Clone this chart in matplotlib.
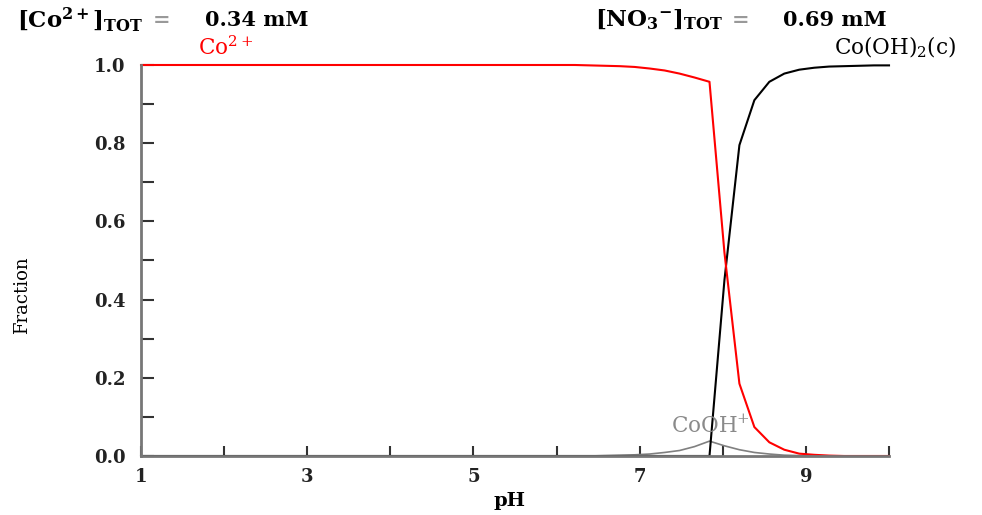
import matplotlib
matplotlib.use("Agg")
import matplotlib.pyplot as plt
from matplotlib.ticker import MultipleLocator, FixedLocator

plt.rcParams['font.family'] = ['DejaVu Serif']
plt.rcParams['mathtext.fontset'] = 'dejavuserif'

# pH grid points (flat stretches only need their ends)
ph = [1.00, 6.22, 6.40, 6.58, 6.76, 6.94, 7.12, 7.30, 7.48, 7.66, 7.84,
      8.02, 8.20, 8.38, 8.56, 8.74, 8.92, 9.10, 9.28, 9.46, 9.64, 9.82, 10.00]

co2 = [1.0, 1.0, 0.999, 0.998, 0.997, 0.995, 0.991, 0.986, 0.978, 0.968, 0.957,
       0.52, 0.185, 0.074, 0.035, 0.016, 0.006, 0.003, 0.001, 0.0, 0.0, 0.0, 0.0]
cooh = [0.0, 0.0, 0.0, 0.001, 0.002, 0.003, 0.005, 0.009, 0.014, 0.024, 0.038,
        0.026, 0.016, 0.009, 0.005, 0.002, 0.001, 0.0, 0.0, 0.0, 0.0, 0.0, 0.0]
cooh2 = [0.0, 0.0, 0.0, 0.0, 0.0, 0.0, 0.0, 0.0, 0.0, 0.0, 0.0,
         0.45, 0.795, 0.91, 0.957, 0.978, 0.988, 0.993, 0.996, 0.997, 0.998, 0.999, 0.999]

xticks = [1, 3, 5, 7, 9]
xminor = [2, 4, 6, 8, 10]

fig = plt.figure(figsize=(9.82, 5.15), dpi=100)
ax = fig.add_axes([0.1436, 0.1146, 0.7617, 0.7592])

ax.plot(ph, cooh, color='#808080', lw=1.2, clip_on=False)
ax.plot(ph, cooh2, color='black', lw=1.5, clip_on=False)
ax.plot(ph, co2, color='red', lw=1.5, clip_on=False)

ax.set_xlim(1, 10)
ax.set_ylim(0, 1)
ax.xaxis.set_major_locator(FixedLocator(xticks))
ax.xaxis.set_minor_locator(FixedLocator(xminor))
ax.yaxis.set_major_locator(MultipleLocator(0.2))
ax.yaxis.set_minor_locator(MultipleLocator(0.1))
ax.yaxis.set_major_formatter(plt.FormatStrFormatter('%.1f'))

for s in ['top', 'right']:
    ax.spines[s].set_visible(False)
for s in ['left', 'bottom']:
    ax.spines[s].set_color('#777777')
    ax.spines[s].set_linewidth(2)

ax.tick_params(axis='x', which='both', direction='in', length=7, width=1.5,
               color='#333333', pad=9)
ax.tick_params(axis='y', which='both', direction='in', length=9, width=1.5,
               color='#333333', pad=11)
for lab in ax.get_xticklabels() + ax.get_yticklabels():
    lab.set_fontsize(13)
    lab.set_fontweight('bold')
    lab.set_color('#222222')

# species labels
ax.text(1.68, 1.012, r'Co$^{2+}$', color='red', fontsize=15.5, va='bottom')
ax.text(9.34, 1.012, r'Co(OH)$_2$(c)', color='black', fontsize=15.5, va='bottom')
ax.text(7.38, 0.045, r'CoOH$^{+}$', color='#8a8a8a', fontsize=15.5, va='bottom')

# header
fig.text(0.017, 0.962, r'$\mathbf{[Co^{2+}]_{TOT}}$', fontsize=16.5, va='center')
fig.text(0.156, 0.962, '=', fontsize=15, va='center', color='#999999', fontweight='bold')
fig.text(0.209, 0.962, '0.34 mM', fontsize=15, va='center', fontweight='bold')
fig.text(0.606, 0.962, r'$\mathbf{[NO_3{}^{-}]_{TOT}}$', fontsize=16.5, va='center')
fig.text(0.745, 0.962, '=', fontsize=15, va='center', color='#999999', fontweight='bold')
fig.text(0.797, 0.962, '0.69 mM', fontsize=15, va='center', fontweight='bold')

# axis titles
fig.text(0.022, 0.427, 'Fraction', rotation=90, fontsize=13, va='center', ha='center')
fig.text(0.519, 0.028, 'pH', fontsize=14, fontweight='bold', ha='center', va='center')

fig.savefig('out.png', dpi=100)
